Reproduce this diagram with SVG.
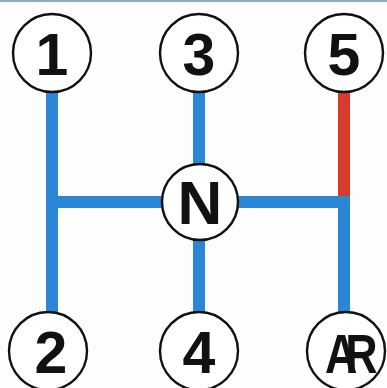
<svg xmlns="http://www.w3.org/2000/svg" width="387" height="388" viewBox="0 0 387 388">
<style>
.bg{fill:#fdfdfd}
.top{fill:#8ea8be}
.blue{stroke:#2b87d6;stroke-width:12;fill:none}
.red{stroke:#d93a2b;stroke-width:12;fill:none}
.ring{fill:#ffffff;stroke:#111111;stroke-width:2.4}
.lbl{font-family:"Liberation Sans",Arial,sans-serif;font-weight:bold;font-size:59px;fill:#111111;text-anchor:middle}
</style>
<rect class="bg" x="0" y="0" width="387" height="388"/>
<rect class="top" x="0" y="0" width="387" height="2"/>
<g id="connectors">
<line class="blue" x1="52" y1="53" x2="52" y2="350"/>
<line class="blue" x1="199" y1="53" x2="199" y2="350"/>
<line class="blue" x1="46" y1="202" x2="350" y2="202"/>
<line class="red" x1="344" y1="53" x2="344" y2="196"/>
<line class="blue" x1="344" y1="196" x2="344" y2="350"/>
</g>
<g id="gear1"><circle class="ring" cx="52" cy="53" r="39"/><text class="lbl" x="52" y="75">1</text></g>
<g id="gear3"><circle class="ring" cx="199" cy="53" r="39"/><text class="lbl" x="199" y="75">3</text></g>
<g id="gear5"><circle class="ring" cx="344" cy="53" r="39"/><text class="lbl" x="344" y="75">5</text></g>
<g id="neutral"><circle class="ring" cx="200" cy="202" r="38"/><text class="lbl" x="200" y="224" style="font-size:62px">N</text></g>
<g id="gear2"><circle class="ring" cx="48" cy="351" r="39"/><text class="lbl" x="51" y="373">2</text></g>
<g id="gear4"><circle class="ring" cx="199" cy="351" r="39"/><text class="lbl" x="199" y="373">4</text></g>
<g id="reverse"><circle class="ring" cx="346" cy="351" r="39"/><text class="lbl" transform="translate(325,373) scale(0.8,1)" x="0" y="0" style="text-anchor:start;font-size:56px;letter-spacing:-15px">AR</text></g>
</svg>
